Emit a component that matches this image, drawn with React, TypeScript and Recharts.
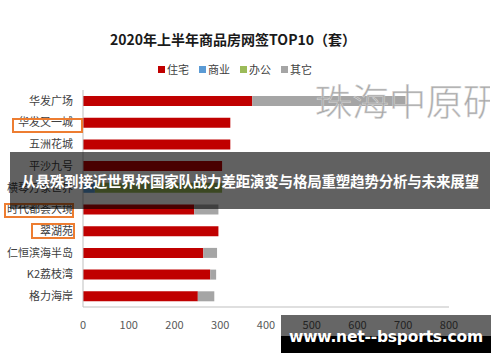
import React from 'react';
import { BarChart, Bar, XAxis, YAxis } from 'recharts';

const projects = ['华发广场', '华发又一城', '五洲花城', '平沙九号', '横琴万象世界', '时代都荟大境', '翠湖苑', '仁恒滨海半岛', 'K2荔枝湾', '格力海岸'];
const residential = [370, 322, 322, 304, 0, 243, 296, 263, 278, 251];
const commercial = [0, 0, 0, 0, 26, 0, 0, 0, 0, 0];
const office = [0, 0, 0, 0, 278, 0, 0, 0, 0, 0];
const others = [335, 0, 0, 0, 0, 53, 0, 30, 13, 36];
const xTicks = [0, 100, 200, 300, 400, 500, 600, 700, 800];

const series = [
  { key: '住宅', color: '#c00000' },
  { key: '商业', color: '#5b9bd5' },
  { key: '办公', color: '#9bbb59' },
  { key: '其它', color: '#a5a5a5' },
];

const data = projects.map((name, i) => ({
  name,
  住宅: residential[i],
  商业: commercial[i],
  办公: office[i],
  其它: others[i],
}));

const font = '"Noto Sans CJK SC", "Noto Sans", sans-serif';

const orangeBox = (left: number, top: number, width: number, height: number) => (
  <div
    style={{
      position: 'absolute', left, top, width, height,
      border: '2px solid #ed7d31', boxSizing: 'border-box', pointerEvents: 'none',
    }}
  />
);

const App: React.FC = () => {
  return (
    <div style={{ position: 'absolute', left: 0, top: 0, width: 500, height: 362, background: '#fff', overflow: 'hidden', fontFamily: font }}>
      <div style={{ position: 'absolute', left: 0, width: 466, top: 29, textAlign: 'center', fontSize: 14, fontWeight: 700, color: '#1a1a1a' }}>
        2020年上半年商品房网签TOP10（套）
      </div>

      {/* legend */}
      <div style={{ position: 'absolute', top: 61, left: 135, width: 200, display: 'flex', justifyContent: 'center', gap: 10, fontSize: 11, color: '#404040' }}>
        {series.map((s) => (
          <span key={s.key} style={{ display: 'flex', alignItems: 'center' }}>
            <span style={{ width: 7, height: 7, background: s.color, display: 'inline-block', marginRight: 2 }} />
            {s.key}
          </span>
        ))}
      </div>

      <BarChart
        width={500}
        height={362}
        data={data}
        layout="vertical"
        margin={{ top: 90, right: 51, left: 0, bottom: 25 }}
        barSize={10}
      >
        <XAxis
          type="number"
          domain={[0, 800]}
          ticks={xTicks}
          height={30}
          tickLine={false}
          tickMargin={8}
          axisLine={{ stroke: '#bfbfbf' }}
          tick={{ fontSize: 11, fill: '#595959', fontFamily: font }}
        />
        <YAxis
          type="category"
          dataKey="name"
          width={83}
          interval={0}
          tickLine={false}
          tickSize={0}
          tickMargin={10}
          axisLine={{ stroke: '#bfbfbf' }}
          tick={{ fontSize: 11, fill: '#404040', fontFamily: font }}
        />
        {series.map((s) => (
          <Bar key={s.key} dataKey={s.key} stackId="a" fill={s.color} isAnimationActive={false} />
        ))}
      </BarChart>

      {/* watermark, clipped like the source image */}
      <div style={{ position: 'absolute', left: 315, top: 78, width: 175, height: 44, overflow: 'hidden' }}>
        <div style={{ fontSize: 37, color: '#a6a6a6', whiteSpace: 'nowrap', fontWeight: 300, lineHeight: '44px', WebkitTextStroke: '0.5px #d9d9d9' }}>
          珠海中原研究
        </div>
      </div>

      {orangeBox(12, 118, 71, 15)}
      {orangeBox(4, 203, 70, 15)}
      {orangeBox(31, 223, 44, 16)}

      <div style={{ position: 'absolute', left: 10, top: 152, width: 480, height: 57, background: 'rgba(0,0,0,0.62)', display: 'flex', alignItems: 'center', justifyContent: 'center' }}>
        <span style={{ color: '#fff', fontWeight: 700, fontSize: 14.5, whiteSpace: 'nowrap', letterSpacing: -0.2 }}>
          从悬殊到接近世界杯国家队战力差距演变与格局重塑趋势分析与未来展望
        </span>
      </div>

      <div style={{ position: 'absolute', left: 281, top: 315, width: 210, height: 21, background: 'rgba(0,0,0,0.6)' }} />
      <div style={{ position: 'absolute', left: 281, top: 336, width: 210, height: 17, background: '#000' }} />
      <div style={{ position: 'absolute', left: 281, top: 327, width: 210, textAlign: 'center', color: '#fff', fontWeight: 700, fontSize: 15.5, lineHeight: '20px', whiteSpace: 'nowrap', fontFamily: '"DejaVu Sans", sans-serif', letterSpacing: -0.2 }}>
        www.net--bsports.com
      </div>
    </div>
  );
};

export default App;
